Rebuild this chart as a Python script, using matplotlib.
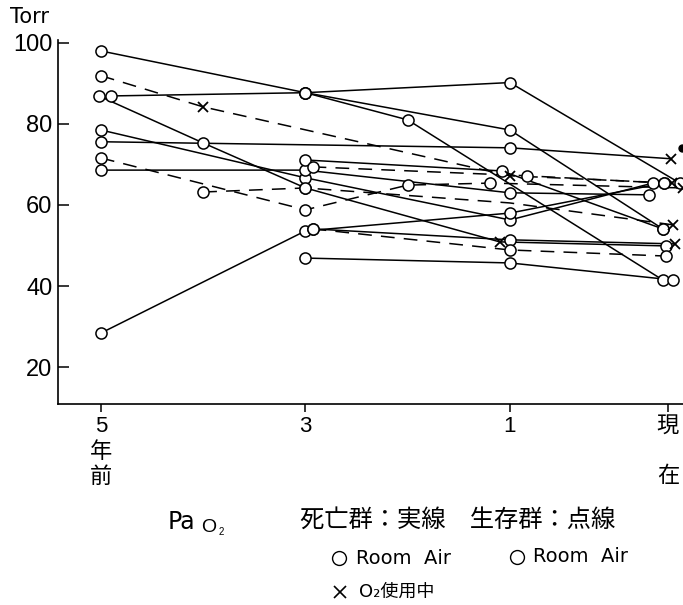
import numpy as np
import matplotlib.pyplot as plt
from matplotlib.lines import Line2D

plt.rcParams['font.family'] = ['Liberation Sans', 'Noto Sans CJK JP', 'DejaVu Sans']

# years before present (0 = 現在), PaO2 in Torr, marker per point ('o' Room Air, 'x' O2, ' ' none)
# 死亡群 : solid lines
dead_years = [
    [5, 3, 1, 0.032],
    [4.9, 3, 1, -0.076],
    [3, 2, 0.032],
    [5, 1, -0.02],
    [5.02, 4, 3, 1.1, 0.012],
    [5, 3, 1, 0.095],
    [5, 3, 1, 0.12],
    [3, 1.08, 0.032],
    [5, 3, 1, 0.026],
    [2.93, 1, -0.045],
    [3, 1, -0.032],
]
dead_pao2 = [
    [98.0, 87.7, 78.5, 54.1],
    [86.9, 87.7, 90.2, 65.4],
    [87.7, 81.0, 41.5],
    [75.6, 74.1, 71.4],
    [86.9, 75.3, 64.2, 50.9, 49.9],
    [78.5, 66.7, 56.3, 65.4],
    [68.6, 68.6, 63.0, 62.5],
    [71.1, 68.4, 54.1],
    [28.4, 53.6, 58.0, 65.4],
    [54.1, 51.4, 50.4],
    [46.9, 45.7, 41.5],
]
dead_marks = ['oooo', 'oooo', 'ooo', 'oox', 'oooxo', 'oooo', 'oooo', 'ooo', 'oooo', 'oox', 'ooo']

# 生存群 : dashed lines
alive_years = [
    [5, 4, 1, -0.026],
    [5, 3, 2, 1.19, -0.095],
    [4, 3, 1, -0.032],
    [2.93, 0.89, 0.026],
    [2.93, 1, 0.012],
]
alive_pao2 = [
    [91.9, 84.2, 67.2, 65.4],
    [71.6, 58.8, 64.9, 65.4, 64.2],
    [63.2, 64.2, 60.5, 55.1],
    [69.4, 67.2, 65.4],
    [54.1, 48.9, 47.4],
]
alive_marks = ['oxxx', 'oooox', 'oo x', 'ooo', 'ooo']

xtick_years = [5, 3, 1, 0]
xtick_labels = ['5\n年\n前', '3', '1', '現\n\n在']
ytick_vals = [20, 40, 60, 80, 100]

# x axis: 1 unit per year back to 1 year, then a wider gap to 現在
T_ANCH = np.array([-2.0, 1.0, 10.0])
P_ANCH = np.array([-(4 + 3 * 1.545), -4.0, 5.0])


def fwd(t):
    return np.interp(t, T_ANCH, P_ANCH)


def inv(p):
    return np.interp(p, P_ANCH, T_ANCH)


fig = plt.figure(figsize=(6.83, 6.05), dpi=100)
ax = fig.add_axes([58 / 683, 1 - 404 / 605, 1 - 58 / 683, (404 - 40) / 605])
ax.set_xscale('function', functions=(fwd, inv))


def draw(years, vals, marks, dashed):
    for t, v, m in zip(years, vals, marks):
        if dashed:
            ax.plot(t, v, color='k', lw=1.1, dashes=(9, 6), zorder=2)
        else:
            ax.plot(t, v, color='k', lw=1.1, zorder=2)
        for ti, vi, mi in zip(t, v, m):
            if mi == 'o':
                ax.plot(ti, vi, 'o', ms=8, mfc='white', mec='k', mew=1.1, zorder=3)
            elif mi == 'x':
                ax.plot(ti, vi, 'x', ms=7, color='k', mew=1.3, zorder=3)


draw(dead_years, dead_pao2, dead_marks, False)
draw(alive_years, alive_pao2, alive_marks, True)
ax.plot(-0.09, 74.0, 'o', ms=5, color='k', zorder=3, clip_on=False)

ax.set_xlim(5.42, -0.096)
ax.set_ylim(10.9, 100.7)
ax.set_xticks(xtick_years)
ax.set_xticklabels(xtick_labels, fontsize=16, linespacing=1.25, va='top')
ax.set_yticks(ytick_vals)
ax.set_yticklabels([str(v) for v in ytick_vals], fontsize=17)
ax.tick_params(axis='x', direction='out', length=6, width=1.1, pad=3)
ax.tick_params(axis='y', direction='in', length=8, width=1.1, pad=4)
for s in ['top', 'right']:
    ax.spines[s].set_visible(False)
for s in ['left', 'bottom']:
    ax.spines[s].set_linewidth(1.2)

fig.text(10 / 683, 1 - 17 / 605, 'Torr', fontsize=15, va='center', ha='left',
         family=['DejaVu Sans'])

fig.text(168 / 683, 1 - 522 / 605, 'Pa', fontsize=17, va='center', ha='left',
         family=['DejaVu Sans'])
fig.text(201 / 683, 1 - 527 / 605, 'O', fontsize=14, va='center', ha='left')
fig.text(219 / 683, 1 - 532 / 605, '2', fontsize=7, va='center', ha='left')
fig.text(300 / 683, 1 - 520 / 605, '死亡群：実線　生存群：点線', fontsize=17.5, va='center', ha='left')

# legend symbols
fig.add_artist(Line2D([339 / 683], [1 - 558 / 605], marker='o', ms=10, mfc='white', mec='k',
                      mew=1.0, transform=fig.transFigure))
fig.add_artist(Line2D([517 / 683], [1 - 557 / 605], marker='o', ms=10, mfc='white', mec='k',
                      mew=1.0, transform=fig.transFigure))
fig.add_artist(Line2D([340 / 683], [1 - 592 / 605], marker='x', ms=8, color='k',
                      mew=1.2, transform=fig.transFigure))
fig.text(356 / 683, 1 - 558 / 605, 'Room  Air', fontsize=14, va='center', ha='left',
         family=['DejaVu Sans'])
fig.text(533 / 683, 1 - 557 / 605, 'Room  Air', fontsize=14, va='center', ha='left',
         family=['DejaVu Sans'])
fig.text(359 / 683, 1 - 592 / 605, 'O\u2082使用中', fontsize=13, va='center', ha='left',
         family=['DejaVu Sans', 'Noto Sans CJK JP'])

fig.savefig('out.png', dpi=100)
